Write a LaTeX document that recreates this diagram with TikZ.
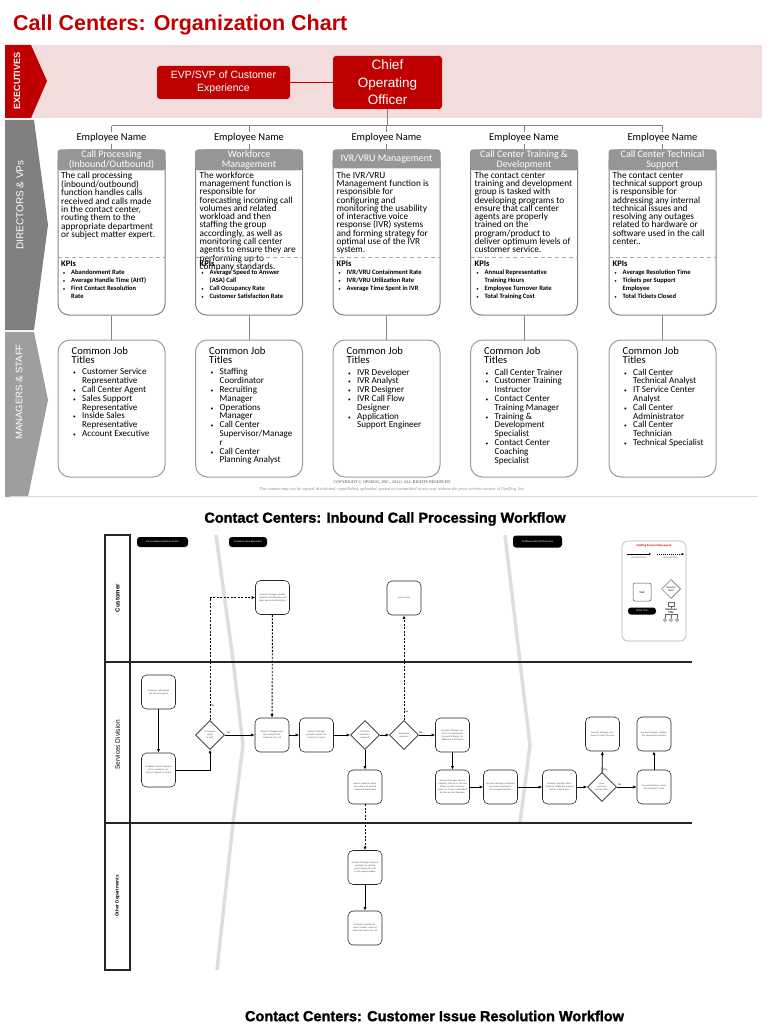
\documentclass[tikz,border=0pt]{standalone}
\usepackage{fontspec}
\usepackage{graphicx}
\setmainfont{Carlito}
\newfontfamily\arialfont{Liberation Sans}
\newfontfamily\serifont{Liberation Serif}
\newfontfamily\heavyfont{Liberation Sans}[BoldFeatures={FakeBold=1.5}]
\usetikzlibrary{shapes.geometric,arrows.meta}
\definecolor{ocred}{RGB}{192,0,0}
\definecolor{bandpink}{RGB}{242,221,220}
\definecolor{tabgray}{RGB}{128,128,128}
\definecolor{tablight}{RGB}{158,158,158}
\definecolor{headgray}{RGB}{150,150,150}
\definecolor{framegray}{RGB}{130,130,130}
\newcommand\kb{\makebox[10pt][l]{\hspace*{2pt}\scalebox{0.6}{\textbullet}}}
\newcommand\ki{\hspace*{10pt}}
\newcommand\bul{\makebox[9pt][l]{\scalebox{0.6}{\textbullet}}}
\newcommand\ind{\hspace*{9pt}}
\begin{document}
\begin{tikzpicture}[x=1pt,y=-1pt,
  exec/.style={fill=ocred,text=white,rounded corners=3pt,align=center,inner sep=0pt},
  tab/.style={rotate=90,text=white,inner sep=0pt},
  empl/.style={font=\fontsize{10.5}{12}\selectfont,inner sep=1pt},
  dirbox/.style={draw=framegray,line width=1pt,rounded corners=11pt,minimum width=107pt,minimum height=165pt},
  dirhead/.style={fill=headgray,draw=headgray,line width=1pt,rounded corners=2.5pt,minimum width=107pt,minimum height=20pt,inner sep=0pt,text=white,align=center,font=\fontsize{10}{10}\selectfont},
  body/.style={anchor=north west,inner sep=0pt,align=left,font=\fontsize{9.3}{8.3}\selectfont},
  kpi/.style={anchor=north west,inner sep=0pt,align=left,font=\fontsize{6.6}{7.9}\selectfont\bfseries},
  kpisep/.style={draw=framegray!70,line width=0.8pt,dash pattern=on 4pt off 3pt},
  staffbox/.style={draw=framegray!80,line width=1pt,rounded corners=12pt,minimum width=107pt,minimum height=137pt},
  jobhead/.style={anchor=north west,inner sep=0pt,align=left,font=\fontsize{10.6}{9.2}\selectfont},
  jobs/.style={anchor=north west,inner sep=0pt,align=left,font=\fontsize{9.1}{8.8}\selectfont},
  link/.style={draw=framegray,line width=1pt},
  task/.style={draw=black!85,line width=0.6pt,rounded corners=5pt,minimum width=34pt,minimum height=34pt,inner sep=1pt,text width=29pt,align=center,font=\fontsize{2.4}{2.9}\selectfont,text=black!70},
  dec/.style={diamond,aspect=1,draw=black!85,line width=0.6pt,minimum width=29pt,minimum height=29pt,inner sep=0pt,text width=13pt,align=center,font=\fontsize{2.4}{2.9}\selectfont,text=black!70},
  flow/.style={-{Latex[length=3.5pt,width=3pt]},line width=0.9pt},
  msg/.style={flow,dash pattern=on 2pt off 1.5pt},
  lbl/.style={font=\fontsize{2.6}{3}\selectfont,inner sep=0.8pt},
  phase/.style={fill=black,rounded corners=3pt,text=white,font=\fontsize{2.6}{3}\selectfont,minimum height=10pt,inner sep=1pt},
  lane/.style={draw=black!85,line width=1.2pt},
  lanelbl/.style={rotate=90,font=\arialfont\bfseries\fontsize{6}{7}\selectfont,inner sep=0pt},
  sep/.style={draw=black!13,line width=3.5pt},
  wtitle/.style={font=\heavyfont\bfseries\fontsize{14.5}{16}\selectfont,inner sep=0pt}
]
\path[use as bounding box] (0,0) rectangle (768,1024);

\node[anchor=west,text=ocred,font=\arialfont\bfseries\fontsize{21.5}{24}\selectfont,inner sep=0pt] (ttl) at (13,25) {Call Centers: Organization Chart};

\fill[bandpink] (5,45) rectangle (762,118);
\fill[ocred] (5,45) -- (31,45) -- (47,81) -- (31,118) -- (5,118) -- cycle;
\fill[tabgray] (5,120) -- (34,120) -- (48,225) -- (34,330) -- (5,330) -- cycle;
\fill[tablight] (5,332) -- (34,332) -- (48,400) -- (28,497) -- (5,497) -- cycle;
\node[tab,font=\arialfont\bfseries\fontsize{9}{10}\selectfont] (tx) at (17,81) {EXECUTIVES};
\node[tab,font=\arialfont\fontsize{10}{11}\selectfont] (td) at (20,205) {DIRECTORS \& VPs};
\node[tab,font=\arialfont\fontsize{9.5}{11}\selectfont] (tm) at (19,392) {MANAGERS \& STAFF};

\node[exec,minimum width=133pt,minimum height=33pt,font=\arialfont\fontsize{10.5}{13}\selectfont] (evp) at (223.5,82.5) {EVP/SVP of Customer\\Experience};
\node[exec,minimum width=109pt,minimum height=53pt,font=\arialfont\fontsize{13.5}{17.5}\selectfont] (coo) at (387.5,82.5) {Chief\\Operating\\Officer};
\draw[ocred,line width=1pt] (evp) -- (coo);
\coordinate (bar) at (387.5,126);
\draw[link] (coo) -- (bar);

\begin{scope}[xshift=111.5pt]
  \node[empl] (e1) at (0,138) {Employee Name};
  \node[dirbox] (d1) at (0,232.5) {};
  \node[dirhead] (h1) at (0,160) {Call Processing\\(Inbound/Outbound)};
  \node[body] (t1) at (-50.5,171.5) {The call processing\\(inbound/outbound)\\function handles calls\\received and calls made\\in the contact center,\\routing them to the\\appropriate department\\or subject matter expert.};
  \draw[kpisep] (-53.5,257) -- (53.5,257);
  \node[kpi] (k1) at (-50.5,261) {{\fontsize{8.5}{8.5}\selectfont KPIs}\\\kb Abandonment Rate\\\kb Average Handle Time (AHT)\\\kb First Contact Resolution\\\ki Rate};
  \node[staffbox] (s1) at (0,408.5) {};
  \node[jobhead] (j1) at (-40,347) {Common Job\\Titles};
  \node[jobs] (l1) at (-38.5,368.5) {\bul Customer Service\\\ind Representative\\\bul Call Center Agent\\\bul Sales Support\\\ind Representative\\\bul Inside Sales\\\ind Representative\\\bul Account Executive};
  \draw[link] (e1) -- (h1);
  \draw[link] (d1) -- (s1);
\end{scope}

\begin{scope}[xshift=249pt]
  \node[empl] (e2) at (0,138) {Employee Name};
  \node[dirbox] (d2) at (0,232.5) {};
  \node[dirhead] (h2) at (0,160) {Workforce\\Management};
  \node[body] (t2) at (-49.5,171.5) {The workforce\\management function is\\responsible for\\forecasting incoming call\\volumes and related\\workload and then\\staffing the group\\accordingly, as well as\\monitoring call center\\agents to ensure they are\\performing up to\\company standards.};
  \draw[kpisep] (-53.5,257) -- (53.5,257);
  \node[kpi] (k2) at (-49.5,261) {{\fontsize{8.5}{8.5}\selectfont KPIs}\\\kb Average Speed to Answer\\\ki (ASA) Call\\\kb Call Occupancy Rate\\\kb Customer Satisfaction Rate};
  \node[staffbox] (s2) at (0,408.5) {};
  \node[jobhead] (j2) at (-40,347) {Common Job\\Titles};
  \node[jobs] (l2) at (-38.5,368.5) {\bul Staffing\\\ind Coordinator\\\bul Recruiting\\\ind Manager\\\bul Operations\\\ind Manager\\\bul Call Center\\\ind Supervisor/Manage\\\ind r\\\bul Call Center\\\ind Planning Analyst};
  \draw[link] (e2) -- (h2);
  \draw[link] (d2) -- (s2);
\end{scope}

\begin{scope}[xshift=386.5pt]
  \node[empl] (e3) at (0,138) {Employee Name};
  \node[dirbox] (d3) at (0,232.5) {};
  \node[dirhead,minimum height=18pt] (h3) at (0,159) {IVR/VRU Management};
  \node[body] (t3) at (-50,171.5) {The IVR/VRU\\Management function is\\responsible for\\configuring and\\monitoring the usability\\of interactive voice\\response (IVR) systems\\and forming strategy for\\optimal use of the IVR\\system.};
  \draw[kpisep] (-53.5,257) -- (53.5,257);
  \node[kpi] (k3) at (-50,261) {{\fontsize{8.5}{8.5}\selectfont KPIs}\\\kb IVR/VRU Containment Rate\\\kb IVR/VRU Utilization Rate\\\kb Average Time Spent in IVR};
  \node[staffbox] (s3) at (0,408.5) {};
  \node[jobhead] (j3) at (-40,347) {Common Job\\Titles};
  \node[jobs] (l3) at (-38.5,368.5) {\bul IVR Developer\\\bul IVR Analyst\\\bul IVR Designer\\\bul IVR Call Flow\\\ind Designer\\\bul Application\\\ind Support Engineer};
  \draw[link] (e3) -- (h3);
  \draw[link] (d3) -- (s3);
\end{scope}

\begin{scope}[xshift=524pt]
  \node[empl] (e4) at (0,138) {Employee Name};
  \node[dirbox] (d4) at (0,232.5) {};
  \node[dirhead] (h4) at (0,160) {Call Center Training \&\\Development};
  \node[body] (t4) at (-49.5,171.5) {The contact center\\training and development\\group is tasked with\\developing programs to\\ensure that call center\\agents are properly\\trained on the\\program/product to\\deliver optimum levels of\\customer service.};
  \draw[kpisep] (-53.5,257) -- (53.5,257);
  \node[kpi] (k4) at (-49.5,261) {{\fontsize{8.5}{8.5}\selectfont KPIs}\\\kb Annual Representative\\\ki Training Hours\\\kb Employee Turnover Rate\\\kb Total Training Cost};
  \node[staffbox] (s4) at (0,408.5) {};
  \node[jobhead] (j4) at (-40,347) {Common Job\\Titles};
  \node[jobs] (l4) at (-38.5,368.5) {\bul Call Center Trainer\\\bul Customer Training\\\ind Instructor\\\bul Contact Center\\\ind Training Manager\\\bul Training \&\\\ind Development\\\ind Specialist\\\bul Contact Center\\\ind Coaching\\\ind Specialist};
  \draw[link] (e4) -- (h4);
  \draw[link] (d4) -- (s4);
\end{scope}

\begin{scope}[xshift=662.5pt]
  \node[empl] (e5) at (0,138) {Employee Name};
  \node[dirbox] (d5) at (0,232.5) {};
  \node[dirhead] (h5) at (0,160) {Call Center Technical\\Support};
  \node[body] (t5) at (-50,171.5) {The contact center\\technical support group\\is responsible for\\addressing any internal\\technical issues and\\resolving any outages\\related to hardware or\\software used in the call\\center..};
  \draw[kpisep] (-53.5,257) -- (53.5,257);
  \node[kpi] (k5) at (-50,261) {{\fontsize{8.5}{8.5}\selectfont KPIs}\\\kb Average Resolution Time\\\kb Tickets per Support\\\ki Employee\\\kb Total Tickets Closed};
  \node[staffbox] (s5) at (0,408.5) {};
  \node[jobhead] (j5) at (-40,347) {Common Job\\Titles};
  \node[jobs] (l5) at (-38.5,368.5) {\bul Call Center\\\ind Technical Analyst\\\bul IT Service Center\\\ind Analyst\\\bul Call Center\\\ind Administrator\\\bul Call Center\\\ind Technician\\\bul Technical Specialist};
  \draw[link] (e5) -- (h5);
  \draw[link] (d5) -- (s5);
\end{scope}

\draw[link] (e1.north |- bar) -- (e5.north |- bar);
\draw[link] (e1.north |- bar) -- (e1.north);
\draw[link] (e2.north |- bar) -- (e2.north);
\draw[link] (e3.north |- bar) -- (e3.north);
\draw[link] (e4.north |- bar) -- (e4.north);
\draw[link] (e5.north |- bar) -- (e5.north);

\node[font=\serifont\fontsize{4.2}{5}\selectfont,text=black!70,inner sep=0pt] (cp1) at (392,482) {COPYRIGHT © OPSDOG, INC., 2014 | ALL RIGHTS RESERVED};
\node[font=\serifont\itshape\fontsize{4.4}{5}\selectfont,text=black!45,inner sep=0pt] (cp2) at (392,489.5) {This content may not be copied, distributed, republished, uploaded, posted or transmitted in any way without the prior written consent of OpsDog, Inc.};
\draw[black!15,line width=0.8pt] (10,496) -- (758,496);

\node[wtitle] (wt1) at (385,519) {Contact Centers: Inbound Call Processing Workflow};

\draw[sep] (216,535) -- (233,660) -- (243,745) -- (233,823) -- (217,970);
\draw[sep] (505,535) -- (520,662) -- (530,745) -- (520,823);
\draw[lane] (105,535) rectangle (130,970);
\draw[lane] (105,662) -- (692,662);
\draw[lane] (105,823) -- (692,823);
\node[lanelbl] (ln1) at (117.5,598) {Customer};
\node[lanelbl,font=\arialfont\fontsize{6.5}{7}\selectfont] (ln2) at (117.5,745) {Services Division};
\node[lanelbl,font=\arialfont\bfseries\fontsize{4.6}{6}\selectfont] (ln3) at (117.5,896) {Other Departments};

\node[phase,minimum width=51pt] (p1) at (162.5,542) {Service Representative Contact};
\node[phase,minimum width=38pt] (p2) at (248,542) {Customer Issue Resolution};
\node[phase,minimum width=49pt,minimum height=12pt] (p3) at (537.5,541.5) {Outbound Sales Pitch \& Close};

\node[task] (c1) at (272.5,597.5) {Account Manager verifies customer identification and takes personal information};
\node[task] (c2) at (404,598) {Issue closed};
\node[task] (t1) at (158.5,692) {Customer calls/emails the Services queue};
\node[task] (t2) at (158.5,770) {Scheduler sends response to the customer, customer's request is routed};
\node[dec] (q1) at (210,735) {Is customer ready to call?};
\node[task] (t3) at (272,735) {Account Manager asks the customer the reason for the call};
\node[task] (t4) at (316.5,735) {Account Manager provides answers to customer's inquiry};
\node[dec] (q2) at (365,735) {Is further assistance required?};
\node[dec] (q3) at (404,735) {Resolution required?};
\node[task] (t5) at (365,787) {Advise customer about the reasons to consult a separate department};
\node[task] (t6) at (452.5,735) {Account Manager contacts the appropriate Account Manager for additional information};
\node[task] (t7) at (452.5,787) {Account Manager informs customer that he or she will follow up with customer when an answer is identified by the Account Manager};
\node[task] (t8) at (500.5,787) {Account Manager completes the issue according to the accepted timeline};
\node[task] (t9) at (559.5,787) {Account Manager offers customer additional product tied to original item};
\node[dec] (q4) at (602,787) {Does customer accept offer?};
\node[task] (t10) at (602.5,734) {Account Manager continues to close the deal};
\node[task] (t11) at (654,787) {Account Manager closes the customer's issue};
\node[task] (t12) at (654,734) {Account Manager updates the appropriate systems};
\node[task] (o1) at (365,867.5) {Account Manager forwards customer to, routing and resolving the call to the representative};
\node[task] (o2) at (365,928) {Customer provides account number, name of caller and reason for call};

\draw[flow] (t1) -- (t2);
\draw[flow] (t2) -| (q1);
\draw[flow] (q1) -- node[lbl,pos=0.12,above] {Yes} (t3);
\draw[msg] (q1) |- node[lbl,pos=0.06,right] {No} (c1);
\draw[msg] (c1) -- (t3);
\draw[flow] (t3) -- (t4);
\draw[flow] (t4) -- (q2);
\draw[flow] (q2) -- (q3);
\draw[flow] (q2) -- (t5);
\draw[msg] (t5) -- (o1);
\draw[flow] (o1) -- (o2);
\draw[msg] (q3) -- node[lbl,pos=0.08,right] {No} (c2);
\draw[flow] (q3) -- node[lbl,pos=0.12,above] {Yes} (t6);
\draw[flow] (t6) -- (t7);
\draw[flow] (t7) -- (t8);
\draw[flow] (t8) -- (t9);
\draw[flow] (t9) -- (q4);
\draw[flow] (q4) -- node[lbl,pos=0.15,right] {Yes} (t10);
\draw[flow] (q4) -- node[lbl,pos=0.15,above] {No} (t11);
\draw[flow] (t11) -- (t12);

\node[draw=black!30,line width=0.6pt,rounded corners=6pt,minimum width=64pt,minimum height=100pt] (leg) at (654,591) {};
\node[font=\bfseries\fontsize{2.9}{3.2}\selectfont,text=ocred,inner sep=0pt] (legt) at (654,546) {OpsDog Process Map Legend};
\coordinate (la) at (627,554);
\coordinate (lb) at (651,554);
\coordinate (lc) at (657,554);
\coordinate (ld) at (684,554);
\draw[-{Latex[length=2pt,width=2pt]},line width=0.5pt] (la) -- (lb);
\draw[-{Latex[length=2pt,width=2pt]},line width=0.5pt,dash pattern=on 1pt off 1pt] (lc) -- (ld);
\node[lbl,text=black!60] (lf1) at (639,557.5) {Standard Flow};
\node[lbl,text=black!60] (lf2) at (670.5,557.5) {Message Flow};
\node[draw=black!70,line width=0.5pt,rounded corners=2pt,minimum size=18pt,font=\fontsize{3}{3.5}\selectfont] (lt) at (642,592) {Task};
\node[diamond,aspect=1,draw=black!70,line width=0.5pt,minimum size=19pt,inner sep=0pt,align=center,font=\fontsize{2.6}{3}\selectfont] (lq) at (671,589) {Decision\\Point};
\node[phase,minimum width=28pt,minimum height=7pt] (lp) at (642,611) {Phase Title};
\node[draw=black!60,line width=0.4pt,minimum width=6pt,minimum height=4pt,inner sep=0pt] (lic) at (671,604) {};
\node[font=\bfseries\fontsize{2.8}{3.2}\selectfont,align=center,inner sep=0.5pt] (ls) at (671,611) {Swimlane\\Title};
\node[draw=black!60,circle,line width=0.4pt,minimum size=3pt,inner sep=0pt] (lc1) at (665,620) {};
\node[draw=black!60,circle,line width=0.4pt,minimum size=3pt,inner sep=0pt] (lc2) at (671,620) {};
\node[draw=black!60,circle,line width=0.4pt,minimum size=3pt,inner sep=0pt] (lc3) at (677,620) {};
\draw[black!60,line width=0.3pt] (lic) -- (ls);
\draw[black!60,line width=0.3pt] (ls.south) -- (lc2);
\draw[black!60,line width=0.3pt] (lc1.north) |- (ls.south) -| (lc3.north);

\node[wtitle] (wt2) at (434.5,1016) {Contact Centers: Customer Issue Resolution Workflow};
\end{tikzpicture}
\end{document}
